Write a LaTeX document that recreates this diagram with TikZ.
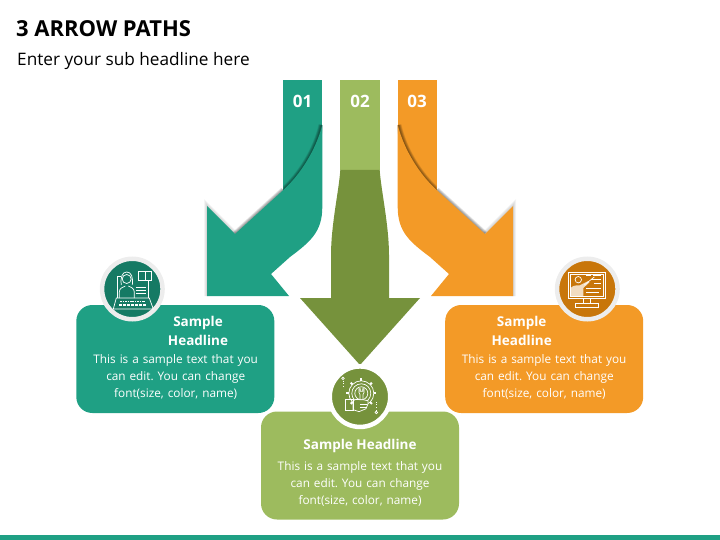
\documentclass[tikz,border=0pt]{standalone}
\usepackage{fontspec}
\setmainfont{Open Sans}
\frenchspacing
\definecolor{tealmain}{HTML}{1FA084}
\definecolor{tealdark}{HTML}{157A64}
\definecolor{leafmain}{HTML}{9DBB5E}
\definecolor{leafdark}{HTML}{76923C}
\definecolor{ambermain}{HTML}{F39A27}
\definecolor{amberdark}{HTML}{C8760A}
\definecolor{ringgray}{HTML}{EDEDED}
\tikzset{
    card/.style={rounded corners=16pt, minimum width=198pt, minimum height=108pt, inner sep=0pt, draw=none},
    badge/.style={circle, minimum size=60.5pt, inner sep=0pt, draw=ringgray, line width=4.5pt},
    headtext/.style={text=white, font=\fontsize{13.5}{19}\selectfont\bfseries, align=center},
    bodytext/.style={text=white, font=\fontsize{11.8}{17}\selectfont, align=center, text width=190pt},
    numtext/.style={text=white, font=\fontsize{17}{20}\selectfont\bfseries},
    iconline/.style={draw=white, line width=0.7pt, fill=none},
}
% bent arrow drawn on the left, the right one is its mirror image
\newcommand{\bentarrow}[1]{
    \fill[#1] (283.3,80) rectangle (322.3,195);
    \begin{scope}
        \clip (283.3,80) rectangle (322.3,195);
        \foreach \w in {1,2,3,4,5,6} {
            \draw[black, opacity=0.09, line width=\w pt]
                (321.5,125) .. controls (316,150) and (300,175) .. (283.3,190);
        }
    \end{scope}
    \foreach \w in {1,2,3,4,5,6} {
        \draw[black, opacity=0.08, line width=\w pt] (283.3,190) -- (235,234);
        \draw[black, opacity=0.03, line width=\w pt] (235,234) -- (207,206) -- (207,296);
    }
    \fill[#1] (322.3,125) .. controls (316,150) and (300,175) .. (283.3,190) -- (235,234)
        -- (207,206) -- (207,296) -- (289,296) -- (271,274) -- (290,257)
        .. controls (310,242) and (322.3,232) .. (322.3,207) -- cycle;
}
\begin{document}
\begin{tikzpicture}[x=1pt, y=-1pt]
    \useasboundingbox (0,0) rectangle (720,540);

    % headline
    \node[anchor=west, font=\fontsize{22}{26}\selectfont\bfseries, inner sep=0pt] (title) at (16,29) {3 ARROW PATHS};
    \node[anchor=west, font=\fontsize{17.2}{20}\selectfont, inner sep=0pt] (subtitle) at (17,61) {Enter your sub headline here};
    \fill[tealmain] (0,535) rectangle (720,540);

    % arrows
    \bentarrow{tealmain}
    \begin{scope}[shift={(720,0)}, xscale=-1]
        \bentarrow{ambermain}
    \end{scope}
    \fill[leafmain] (340.3,80) rectangle (379.7,170);
    \fill[leafdark] (340.3,170) .. controls (339,190) and (331,225) .. (331,255) -- (331,298)
        -- (300,298) -- (360,365) -- (420,298) -- (389,298) -- (389,255)
        .. controls (389,225) and (381,190) .. (379.7,170) -- cycle;
    \node[numtext] (num1) at (302.5,101) {01};
    \node[numtext] (num2) at (360,101) {02};
    \node[numtext] (num3) at (417,101) {03};

    % cards
    \node[card, fill=tealmain] (card1) at (175.3,359) {};
    \node[card, fill=leafmain] (card2) at (360,465.5) {};
    \node[card, fill=ambermain] (card3) at (544.2,359) {};

    \node[headtext] (head1) at (198,330.5) {Sample\\Headline};
    \node[bodytext] (body1) at (175.7,377) {This is a sample text that you\\can edit. You can change\\font(size, color, name)};
    \node[headtext] (head2) at (360,445.5) {Sample Headline};
    \node[bodytext] (body2) at (360,484) {This is a sample text that you\\can edit. You can change\\font(size, color, name)};
    \node[headtext] (head3) at (521.7,330.5) {Sample\\Headline};
    \node[bodytext] (body3) at (544.2,377) {This is a sample text that you\\can edit. You can change\\font(size, color, name)};

    % badges
    \node[badge, fill=tealdark] (badge1) at (132.3,289) {};
    \node[badge, fill=leafdark, draw=white] (badge2) at (360,396.7) {};
    \node[badge, fill=amberdark] (badge3) at (587.3,289) {};

    % teacher with keyboard
    \begin{scope}[shift={(badge1.center)}]
        \draw[iconline] (-5.6,-10) circle (4.5);
        \draw[iconline] (-11,-4) .. controls (-12,-12) and (-10,-17) .. (-5.6,-17) .. controls (-1,-17) and (1,-12) .. (0,-4);
        \draw[iconline] (-13,9) -- (-13,3) .. controls (-13,-1) and (-9,-2) .. (-7,-3);
        \draw[iconline] (2,9) -- (2,3) .. controls (2,-1) and (-2,-2) .. (-4,-3);
        \draw[iconline] (-15,9) -- (-15,-13) -- (-11,-13);
        \draw[iconline] (16,9) -- (16,-9);
        \draw[iconline] (6,-18) rectangle (19.5,-9);
        \draw[iconline] (12.7,-18) -- (12.7,-9);
        \foreach \y in {-2,1,4} { \draw[iconline] (4,\y) -- (14,\y); }
        \draw[iconline] (-16,9) -- (17,9) -- (21,20) -- (-19,20) -- cycle;
        \draw[iconline, dash pattern=on 1.6pt off 0.8pt, line width=1.5pt] (-12,12.5) -- (13,12.5);
        \draw[iconline, dash pattern=on 3pt off 1pt, line width=1.5pt] (-13,16) -- (15,16);
    \end{scope}

    % gear with wrench
    \begin{scope}[shift={(badge2.center)}]
        \foreach \a in {0,45,...,315} {
            \draw[iconline, line width=2pt] (1.3,-3.4) ++(\a:12.5) -- ++(\a:2.5);
        }
        \draw[iconline] (1.3,-3.4) circle (12.5);
        \draw[iconline] (1.3,-3.4) circle (9.5);
        \draw[iconline] (1.3,-3.4) circle (6.5);
        \draw[iconline] (-1,-8) -- (-1,-4) -- (0,-2) -- (0,6) -- (3,6) -- (3,-2) -- (4,-4) -- (4,-8) -- (2.8,-8) -- (2.8,-5.5) -- (0.3,-5.5) -- (0.3,-8) -- cycle;
        \draw[iconline, fill=leafdark] (-7,4) .. controls (-3,1) and (0,4) .. (3,3) -- (8,4) -- (8,7) -- (6,12) -- (-1,15) -- (-7,13) -- cycle;
        \draw[iconline] (-15,3) rectangle (-7,14);
        \draw[iconline] (0,8) -- (7,8); \draw[iconline] (0,11) -- (6,11);
        \draw[iconline] (-17,-18.3) circle (1.3);
        \draw[iconline, dotted, line width=1pt] (-17,-16) -- (-17,-8);
        \draw[iconline] (16.3,15.7) circle (1.3);
        \draw[iconline, dotted, line width=1pt] (16.3,13.5) -- (16.3,5);
    \end{scope}

    % monitor with lecturer
    \begin{scope}[shift={(badge3.center)}]
        \draw[iconline] (-19,-17) rectangle (18,9.7);
        \draw[iconline] (-17,-15) rectangle (16,7.5);
        \draw[iconline] (-4,9.7) -- (-4,14.7); \draw[iconline] (3,9.7) -- (3,14.7);
        \draw[iconline] (-12.3,14.7) rectangle (11,18);
        \draw[iconline] (-9,-9.3) circle (3.2);
        \fill[white, opacity=0.75] (-17,7.5) -- (-17,0) .. controls (-16,-3) and (-12,-4) .. (-8,-3.5) -- (1,-8) -- (2,-6.5) -- (-4,-1) -- (-4,7.5) -- cycle;
        \draw[iconline] (-3,-4) -- (7,-12);
        \foreach \x/\y/\e in {-1/-14/4, 6/-14/14, 4/-10/14, 7/-6/14, -1/-1/14, -1/3/12} {
            \draw[iconline] (\x,\y) -- (\e,\y);
        }
    \end{scope}
\end{tikzpicture}
\end{document}
